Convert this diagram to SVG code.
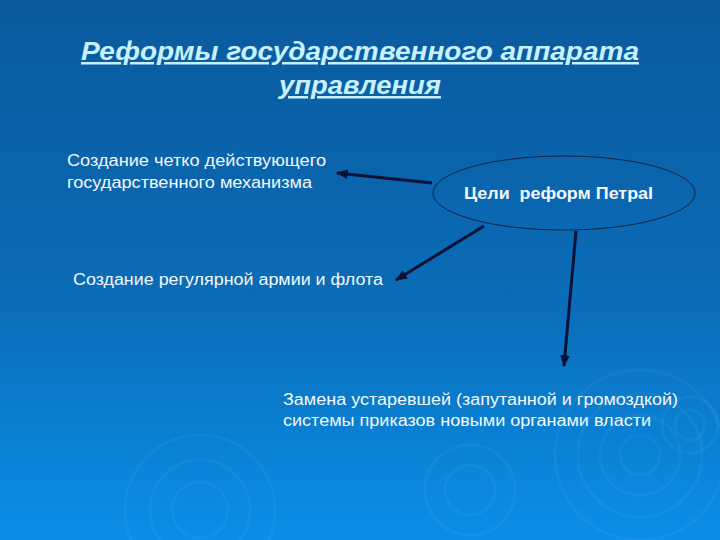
<svg xmlns="http://www.w3.org/2000/svg" width="720" height="540" viewBox="0 0 720 540">
<defs>
<linearGradient id="bg" x1="0" y1="0" x2="0" y2="1">
<stop offset="0" stop-color="#0b5a9d"/>
<stop offset="0.55" stop-color="#0a6cb8"/>
<stop offset="1" stop-color="#0a8fe6"/>
</linearGradient>
<marker id="ah" viewBox="0 0 10 10" refX="9" refY="5" markerWidth="4" markerHeight="4" orient="auto" markerUnits="strokeWidth">
<path d="M0,1 L10,5 L0,9 z" fill="#0a1235"/>
</marker>
<style>
.t{font-family:"Liberation Sans",Arial,sans-serif;fill:#f2f8ff;font-size:16px}
.title{font-family:"Liberation Sans",Arial,sans-serif;fill:#c8f1ff;font-size:25px;font-weight:bold;font-style:italic;text-decoration:underline}
.con{stroke:#0a1235;stroke-width:3;fill:none;marker-end:url(#ah)}
.rip{fill:none;stroke:#ffffff;stroke-opacity:0.045;stroke-width:3}
</style>
</defs>
<rect width="720" height="540" fill="url(#bg)"/>
<g id="ripples">
<circle class="rip" cx="640" cy="455" r="85"/>
<circle class="rip" cx="640" cy="455" r="62"/>
<circle class="rip" cx="640" cy="455" r="40"/>
<circle class="rip" cx="640" cy="455" r="20"/>
<circle class="rip" cx="690" cy="425" r="28"/>
<circle class="rip" cx="690" cy="425" r="15"/>
<circle class="rip" cx="470" cy="490" r="45"/>
<circle class="rip" cx="470" cy="490" r="25"/>
<circle class="rip" cx="200" cy="510" r="75"/>
<circle class="rip" cx="200" cy="510" r="50"/>
<circle class="rip" cx="200" cy="510" r="28"/>
</g>
<g id="title">
<text class="title" x="360" y="60" text-anchor="middle" textLength="558" lengthAdjust="spacingAndGlyphs">Реформы государственного аппарата</text>
<text class="title" x="360" y="94" text-anchor="middle" textLength="162" lengthAdjust="spacingAndGlyphs">управления</text>
</g>
<g id="connectors">
<line class="con" x1="432" y1="183" x2="337" y2="173"/>
<line class="con" x1="484" y1="226" x2="396" y2="280"/>
<line class="con" x1="576" y1="231" x2="564" y2="366"/>
</g>
<g id="goal">
<ellipse cx="564" cy="193" rx="131" ry="37" fill="none" stroke="#14223f" stroke-width="1"/>
<text class="t" x="464" y="199" font-weight="bold" font-size="15" textLength="189" lengthAdjust="spacingAndGlyphs" xml:space="preserve" style="white-space:pre">Цели  реформ ПетраI</text>
</g>
<g id="n1">
<text class="t" x="67" y="166" textLength="259" lengthAdjust="spacingAndGlyphs">Создание четко действующего</text>
<text class="t" x="67" y="188" textLength="245" lengthAdjust="spacingAndGlyphs">государственного механизма</text>
</g>
<g id="n2">
<text class="t" x="73" y="285" textLength="310" lengthAdjust="spacingAndGlyphs">Создание регулярной армии и флота</text>
</g>
<g id="n3">
<text class="t" x="283" y="405" textLength="395" lengthAdjust="spacingAndGlyphs">Замена устаревшей (запутанной и громоздкой)</text>
<text class="t" x="283" y="426" textLength="368" lengthAdjust="spacingAndGlyphs">системы приказов новыми органами власти</text>
</g>
</svg>
